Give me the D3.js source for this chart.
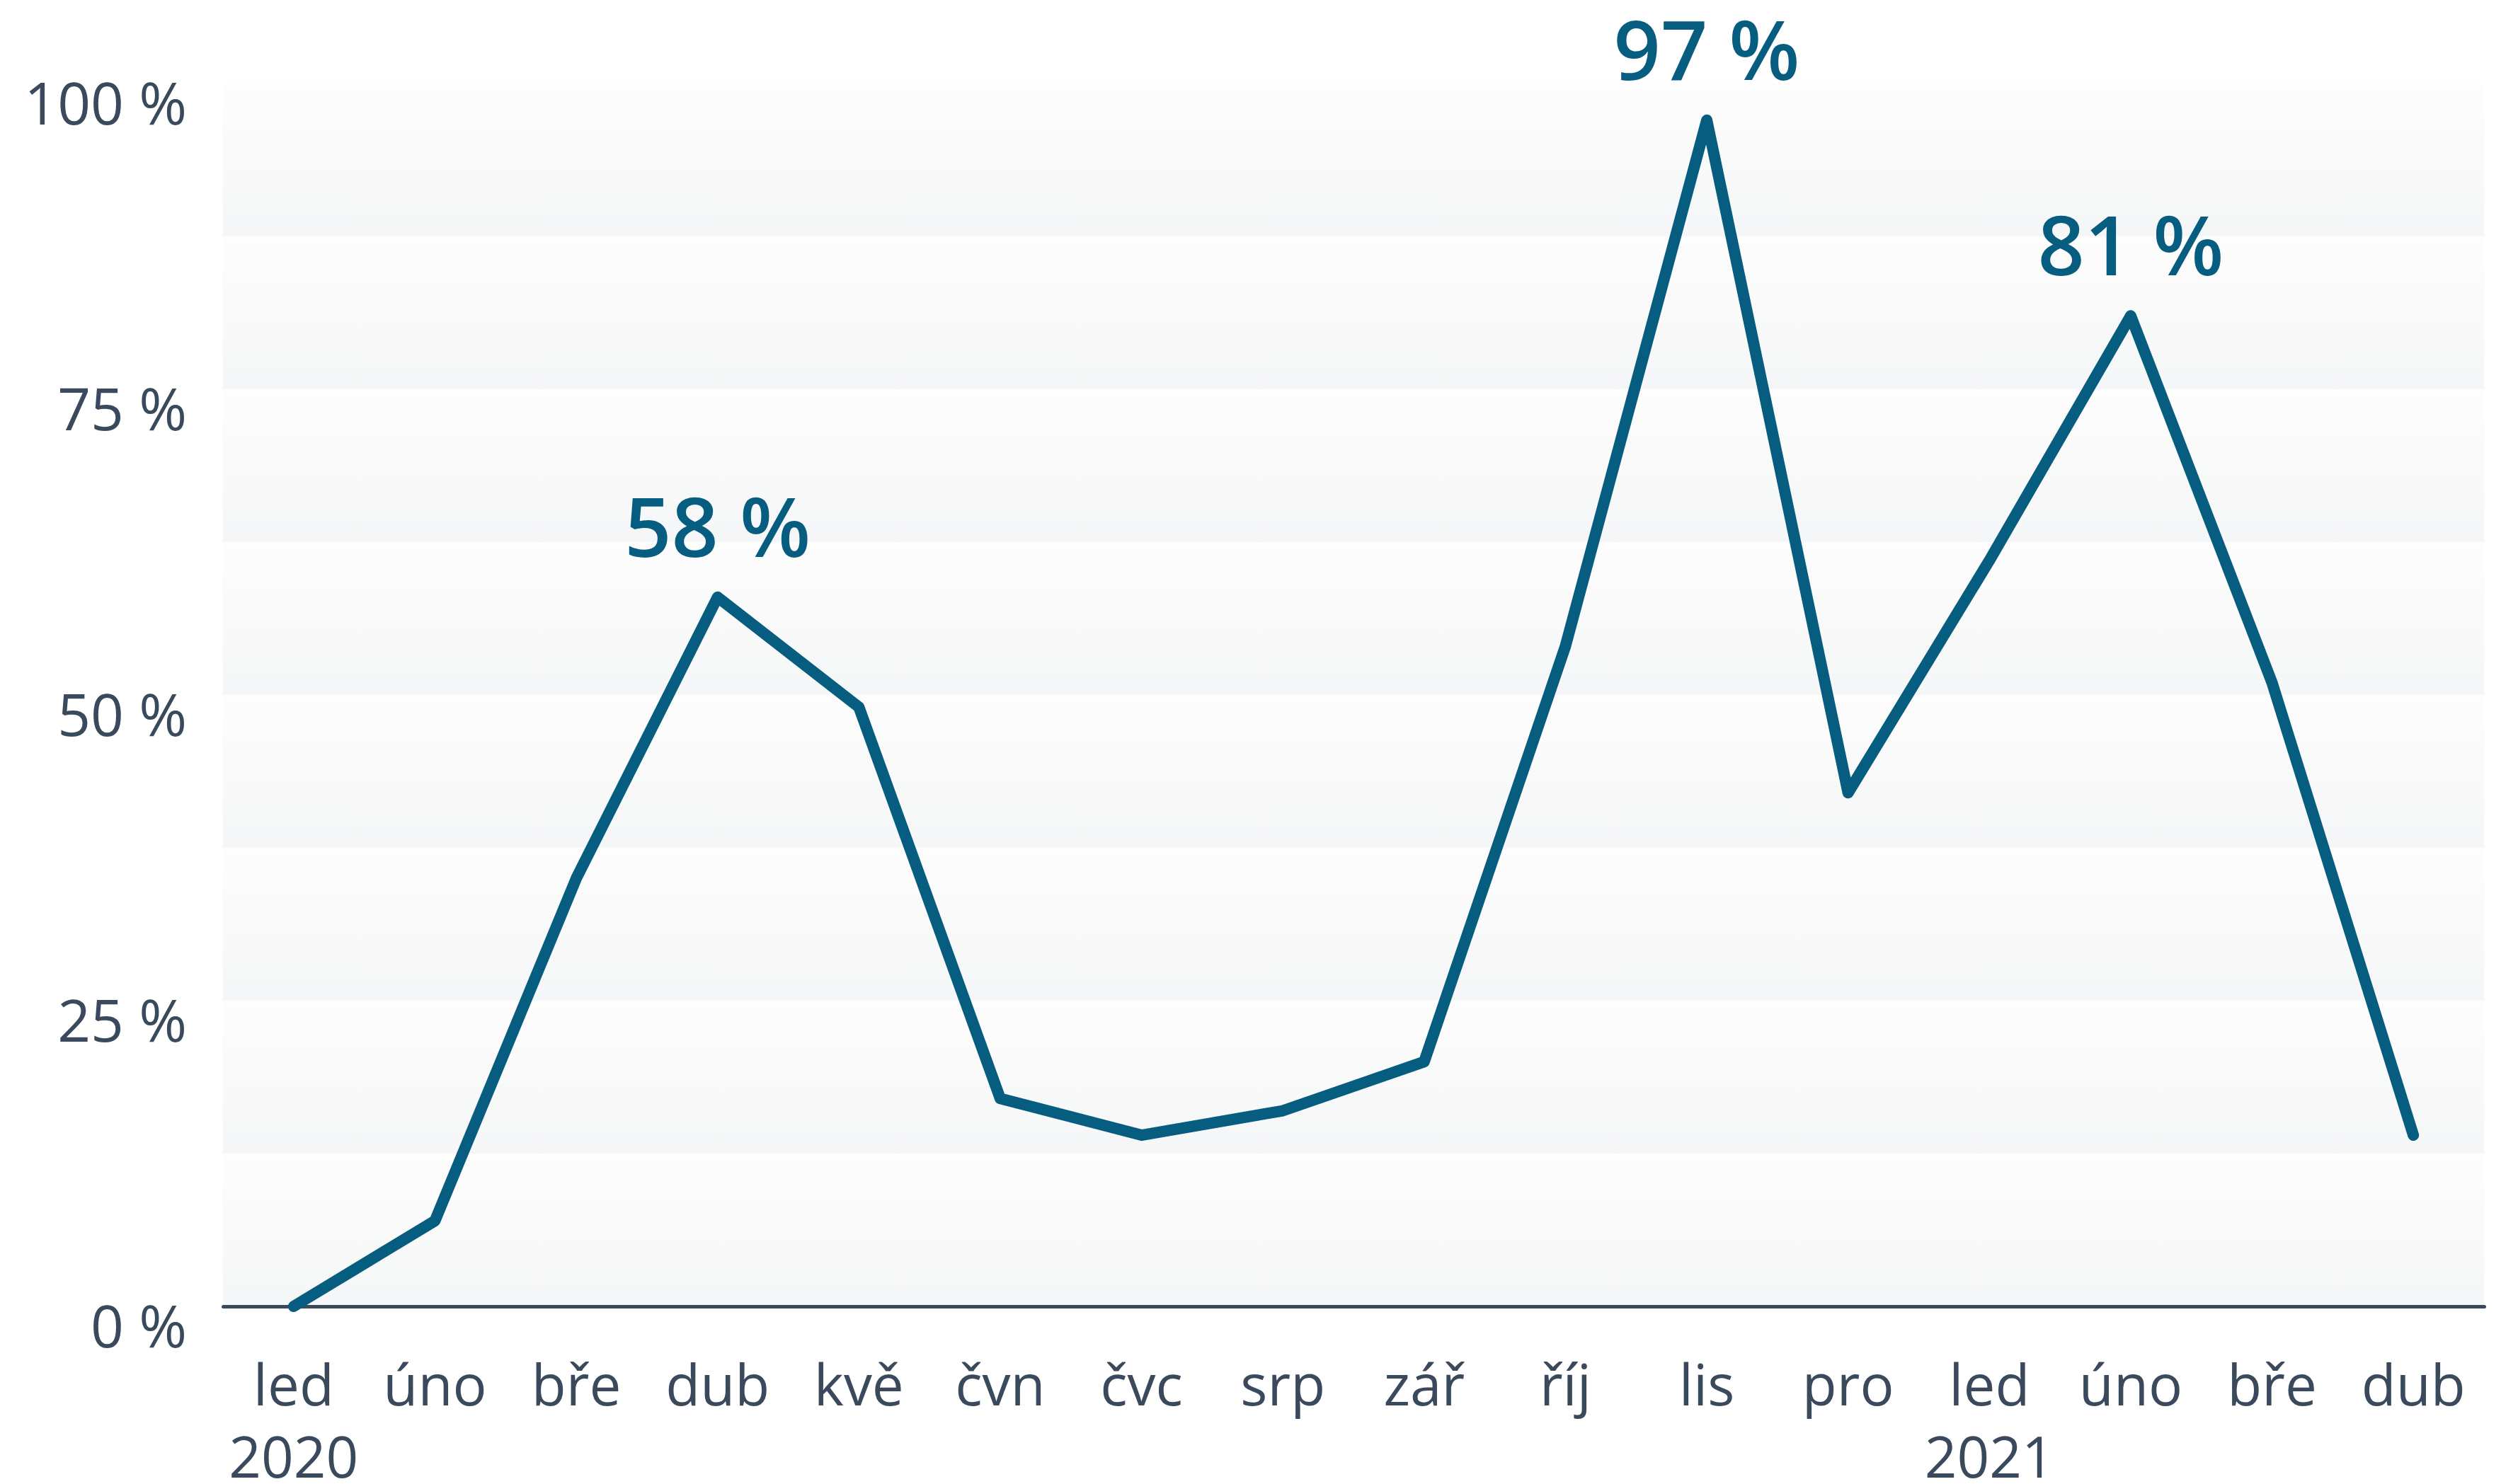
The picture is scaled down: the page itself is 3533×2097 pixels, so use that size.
<!DOCTYPE html>
<html>
<head>
<meta charset="utf-8">
<script src="https://cdn.jsdelivr.net/npm/d3@7"></script>
<style>
  body { margin: 0; background: #ffffff; }
  svg { display: block; }
  svg text { font-family: "Open Sans", "Noto Sans", sans-serif; }
</style>
</head>
<body>
<script>
// chart data
var months = ["led", "úno", "bře", "dub", "kvě", "čvn", "čvc", "srp", "zář", "říj", "lis", "pro", "led", "úno", "bře", "dub"];
var years = ["2020", "", "", "", "", "", "", "", "", "", "", "", "2021", "", "", ""];
var values = [0, 7, 35, 58, 49, 17, 14, 16, 20, 54, 97, 42, 61, 81, 51, 14];
var labelled = [3, 10, 13];
var yTicks = [0, 25, 50, 75, 100];

// sizes
var svg_Width = 3533;
var svg_Height = 2097;
var margin = { top: 118, right: 24, bottom: 251, left: 315 };
var chart_Width = svg_Width - margin.left - margin.right;
var chart_Height = svg_Height - margin.top - margin.bottom;

var lineColor = "#075d80";
var textColor = "#3a4a5c";

var svg = d3.select("body")
  .append("svg")
  .attr("width", svg_Width)
  .attr("height", svg_Height);

var defs = svg.append("defs");
var grad = defs.append("linearGradient")
  .attr("id", "bandGrad")
  .attr("x1", 0).attr("y1", 0)
  .attr("x2", 0).attr("y2", 1);
grad.append("stop").attr("offset", "0%").attr("stop-color", "#fdfdfd");
grad.append("stop").attr("offset", "100%").attr("stop-color", "#f5f6f7");

var chartGroup = svg.append("g")
  .attr("transform", `translate(${margin.left}, ${margin.top})`);

// scales
var x = d3.scaleBand()
  .domain(d3.range(months.length))
  .range([0, chart_Width]);

var y = d3.scaleLinear()
  .domain([0, 100])
  .range([chart_Height, 0]);

var xc = function(i) { return x(i) + x.bandwidth() / 2; };

// shaded background bands, 12.5 % each
chartGroup.append("g")
  .selectAll("rect")
  .data(d3.range(0, 100, 12.5))
  .enter()
  .append("rect")
  .attr("x", 0)
  .attr("y", d => y(d + 12.5))
  .attr("width", chart_Width)
  .attr("height", d => y(d) - y(d + 12.5))
  .attr("fill", "url(#bandGrad)");

// y axis
var left_Axis = d3.axisLeft(y)
  .tickValues(yTicks)
  .tickSize(0)
  .tickPadding(51)
  .tickFormat(d => d + " %");

var yAxisG = chartGroup.append("g").call(left_Axis)
  .attr("font-family", null)
  .attr("font-size", null);
yAxisG.select(".domain").remove();
yAxisG.selectAll("text")
  .attr("dy", 57)
  .attr("fill", textColor)
  .style("font-size", "82px");

// x axis
var bottom_Axis = d3.axisBottom(x)
  .tickSize(0)
  .tickSizeOuter(0)
  .tickFormat(i => months[i]);

var xAxisG = chartGroup.append("g")
  .attr("transform", `translate(0, ${chart_Height})`)
  .call(bottom_Axis)
  .attr("font-family", null)
  .attr("font-size", null);

xAxisG.select(".domain")
  .attr("stroke", textColor)
  .attr("stroke-width", 5)
  .attr("stroke-linecap", "round");

xAxisG.selectAll(".tick text")
  .attr("y", 140)
  .attr("dy", 0)
  .attr("fill", textColor)
  .style("font-size", "80px");

xAxisG.selectAll(".tick")
  .append("text")
  .attr("y", 242)
  .attr("fill", textColor)
  .attr("text-anchor", "middle")
  .style("font-size", "80px")
  .text(i => years[i]);

// the line
var line = d3.line()
  .x((d, i) => xc(i))
  .y(d => y(d));

chartGroup.append("path")
  .datum(values)
  .attr("d", line)
  .attr("fill", "none")
  .attr("stroke", lineColor)
  .attr("stroke-width", 16)
  .attr("stroke-linejoin", "round")
  .attr("stroke-linecap", "round");

// peak labels
chartGroup.selectAll(".peak")
  .data(labelled)
  .enter()
  .append("text")
  .attr("class", "peak")
  .attr("x", i => xc(i))
  .attr("y", i => y(values[i]) - 57)
  .attr("text-anchor", "middle")
  .attr("fill", lineColor)
  .style("font-size", "116px")
  .style("font-weight", 600)
  .text(i => values[i] + " %");
</script>
</body>
</html>
